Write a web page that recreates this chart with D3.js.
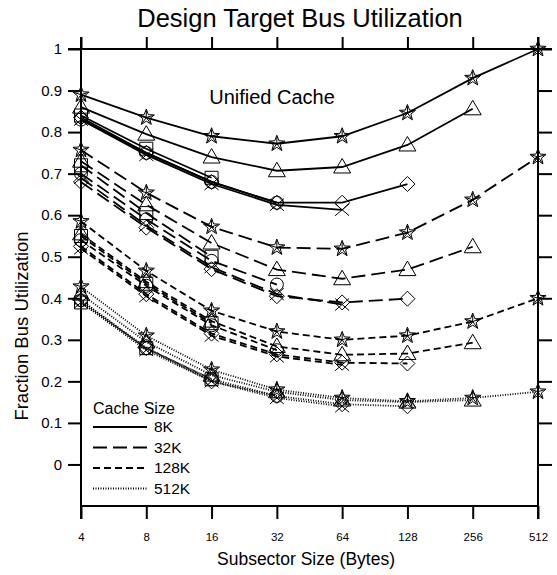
<!DOCTYPE html>
<html>
<head>
<meta charset="utf-8">
<script src="https://cdn.jsdelivr.net/npm/d3@7"></script>
<style>
  html, body { margin: 0; padding: 0; background: #fff; }
  svg { display: block; font-family: "Liberation Sans", Arial, sans-serif; }
</style>
</head>
<body>
<svg id="chart" width="557" height="575"></svg>
<script>
// Subsector sizes (bytes) along the x axis
const subsectors = [4, 8, 16, 32, 64, 128, 256, 512];
const yTicks = [0, 0.1, 0.2, 0.3, 0.4, 0.5, 0.6, 0.7, 0.8, 0.9, 1];
const cacheSizes = ["8K", "32K", "128K", "512K"];
// Line sizes; each one has its own marker and runs up to that subsector size
const lineSizes = [16, 32, 64, 128, 256, 512];
const markers = ["square", "circle", "cross", "diamond", "triangle", "star"];

// Utilization per line size (rows follow lineSizes), values per subsector size
const util8K = [
  [0.84, 0.76, 0.69],
  [0.83, 0.75, 0.68, 0.63],
  [0.83, 0.745, 0.675, 0.625, 0.613],
  [0.835, 0.75, 0.68, 0.63, 0.63, 0.675],
  [0.86, 0.795, 0.74, 0.707, 0.716, 0.769, 0.856],
  [0.89, 0.835, 0.79, 0.772, 0.79, 0.846, 0.93, 1.0]
];
const util32K = [
  [0.72, 0.605, 0.50],
  [0.70, 0.59, 0.49, 0.433],
  [0.69, 0.575, 0.475, 0.41, 0.385],
  [0.68, 0.57, 0.47, 0.405, 0.39, 0.399],
  [0.73, 0.625, 0.533, 0.469, 0.447, 0.469, 0.524],
  [0.757, 0.654, 0.572, 0.522, 0.519, 0.558, 0.637, 0.74]
];
const util128K = [
  [0.55, 0.435, 0.34],
  [0.54, 0.43, 0.335, 0.275],
  [0.52, 0.405, 0.31, 0.26, 0.24],
  [0.525, 0.41, 0.315, 0.265, 0.245, 0.243],
  [0.555, 0.44, 0.345, 0.284, 0.264, 0.267, 0.293],
  [0.585, 0.466, 0.37, 0.32, 0.30, 0.31, 0.344, 0.40]
];
const util512K = [
  [0.39, 0.28, 0.205],
  [0.395, 0.28, 0.205, 0.165],
  [0.39, 0.275, 0.20, 0.16, 0.14],
  [0.395, 0.28, 0.20, 0.165, 0.145, 0.14],
  [0.41, 0.295, 0.215, 0.175, 0.155, 0.15, 0.155],
  [0.428, 0.31, 0.228, 0.18, 0.16, 0.152, 0.16, 0.175]
];
const utilByCache = [util8K, util32K, util128K, util512K];
const dashes = [null, "14,6", "7,4", "1,1.5"];
const widths = [1.8, 1.8, 1.8, 1.8];

const svg = d3.select("#chart");
const x = d3.scaleLog().base(2).domain([4, 512]).range([81, 538]);
const y = d3.scaleLinear().domain([-0.1, 1]).range([506, 49]);
const FONT = "Liberation Sans, Arial, sans-serif";

// Frame axes
const fmtY = d => (d === 0 ? "0" : d === 1 ? "1" : d.toFixed(1));
const axisStyle = g => {
  g.selectAll("path.domain").remove();
  g.selectAll(".tick line").attr("stroke", "#000").attr("stroke-width", 2);
};

svg.append("g").attr("transform", "translate(81,0)")
  .call(d3.axisLeft(y).tickValues(yTicks).tickFormat(fmtY).tickSize(13).tickPadding(6))
  .call(axisStyle)
  .call(g => g.selectAll("text").attr("font-size", 15).attr("fill", "#000").attr("font-family", FONT));

svg.append("g").attr("transform", "translate(538,0)")
  .call(d3.axisRight(y).tickValues(yTicks).tickFormat("").tickSize(14))
  .call(axisStyle);

svg.append("g").attr("transform", "translate(0,49)")
  .call(d3.axisTop(x).tickValues(subsectors).tickFormat("").tickSize(12))
  .call(axisStyle);

svg.append("g").attr("transform", "translate(0,506)")
  .call(d3.axisBottom(x).tickValues(subsectors).tickFormat(d3.format("d")).tickSize(13).tickPadding(14))
  .call(axisStyle)
  .call(g => g.selectAll("text").attr("font-size", 11.5).attr("fill", "#000").attr("font-family", FONT));

// Border lines of the plot box
const frame = svg.append("g").attr("stroke", "#000").attr("stroke-width", 2);
frame.append("line").attr("x1", 81).attr("x2", 81).attr("y1", 37).attr("y2", 519);
frame.append("line").attr("x1", 538).attr("x2", 538).attr("y1", 37).attr("y2", 519);
frame.append("line").attr("x1", 68).attr("x2", 552).attr("y1", 49).attr("y2", 49);
frame.append("line").attr("x1", 81).attr("x2", 538).attr("y1", 506).attr("y2", 506);

// Marker shapes, drawn as open outlines
function markerPath(kind) {
  const p = d3.path();
  if (kind === "square") {
    p.rect(-6.5, -6.5, 13, 13);
  } else if (kind === "circle") {
    p.moveTo(6.5, 0); p.arc(0, 0, 6.5, 0, 2 * Math.PI);
  } else if (kind === "cross") {
    p.moveTo(-7, -6); p.lineTo(7, 6); p.moveTo(-7, 6); p.lineTo(7, -6);
  } else if (kind === "diamond") {
    p.moveTo(0, -7.5); p.lineTo(7.5, 0); p.lineTo(0, 7.5); p.lineTo(-7.5, 0); p.closePath();
  } else if (kind === "triangle") {
    p.moveTo(0, -8.5); p.lineTo(8.5, 6); p.lineTo(-8.5, 6); p.closePath();
  } else if (kind === "star") {
    const R = 8.5, r = 3.6;
    for (let i = 0; i < 10; i++) {
      const a = -Math.PI / 2 + i * Math.PI / 5;
      const rad = i % 2 === 0 ? R : r;
      const px = rad * Math.cos(a), py = rad * Math.sin(a);
      if (i === 0) p.moveTo(px, py); else p.lineTo(px, py);
    }
    p.closePath();
    for (let i = 0; i < 5; i++) {
      const a = -Math.PI / 2 + i * 2 * Math.PI / 5;
      p.moveTo(0, 0); p.lineTo(R * 0.8 * Math.cos(a), R * 0.8 * Math.sin(a));
    }
  }
  return p.toString();
}

const line = d3.line().x(d => x(d.s)).y(d => y(d.v));
const plot = svg.append("g");

utilByCache.forEach((rows, ci) => {
  rows.forEach((vals, li) => {
    const pts = vals.map((v, i) => ({ s: subsectors[i], v }));
    plot.append("path")
      .datum(pts)
      .attr("d", line)
      .attr("fill", "none")
      .attr("stroke", "#000")
      .attr("stroke-width", widths[ci])
      .attr("stroke-dasharray", dashes[ci]);
    plot.selectAll(null)
      .data(pts)
      .enter().append("path")
      .attr("transform", d => `translate(${x(d.s)},${y(d.v)})`)
      .attr("d", markerPath(markers[li]))
      .attr("fill", "none")
      .attr("stroke", "#000")
      .attr("stroke-width", 1);
  });
});

// Titles and annotation
svg.append("text").attr("x", 300).attr("y", 27).attr("text-anchor", "middle")
  .attr("font-size", 25.5).text("Design Target Bus Utilization");
svg.append("text").attr("x", 272).attr("y", 104).attr("text-anchor", "middle")
  .attr("font-size", 20).text("Unified Cache");
svg.append("text").attr("x", 306).attr("y", 565).attr("text-anchor", "middle")
  .attr("font-size", 17.5).text("Subsector Size (Bytes)");
svg.append("text").attr("transform", "translate(28,326) rotate(-90)")
  .attr("text-anchor", "middle").attr("font-size", 18.5).text("Fraction Bus Utilization");

// Legend
const legend = svg.append("g");
legend.append("text").attr("x", 93).attr("y", 414).attr("font-size", 16).text("Cache Size");
cacheSizes.forEach((name, i) => {
  const ly = 427 + i * 20.5;
  legend.append("line").attr("x1", 93).attr("x2", 147).attr("y1", ly).attr("y2", ly)
    .attr("stroke", "#000").attr("stroke-width", widths[i])
    .attr("stroke-dasharray", dashes[i]);
  legend.append("text").attr("x", 154).attr("y", ly).attr("dy", "0.35em")
    .attr("font-size", 15.5).text(name);
});
</script>
</body>
</html>
